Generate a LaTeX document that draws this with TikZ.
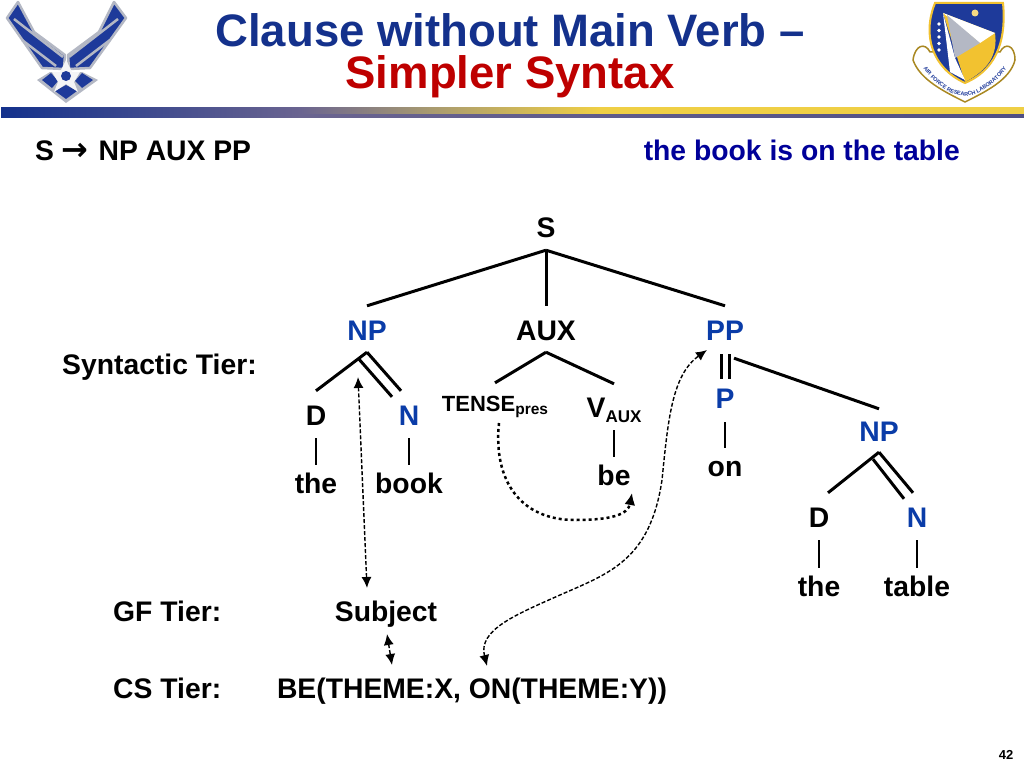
\documentclass[tikz,border=0pt]{standalone}
\usepackage{fontspec}
\setmainfont{Liberation Sans}
\newfontfamily\arrowfont{DejaVu Sans}
\usetikzlibrary{arrows.meta,decorations.text}

\definecolor{title_blue}{HTML}{14318C}
\definecolor{title_red}{HTML}{BE0000}
\definecolor{np_blue}{HTML}{0A3CA8}
\definecolor{line_blue}{HTML}{000099}
\definecolor{wing_blue}{HTML}{1E3A9A}
\definecolor{wing_grey}{HTML}{B4B8C4}
\definecolor{shield_gold}{HTML}{F2C230}
\definecolor{bar_mid}{HTML}{6A6490}
\definecolor{bar_tan}{HTML}{A89A70}
\definecolor{bar_gold}{HTML}{EFCF45}
\definecolor{bar_low}{HTML}{4F4F85}

\tikzset{
  label_text/.style={font=\fontsize{28.3}{28.3}\selectfont\bfseries, inner sep=0pt, anchor=base},
  title_text/.style={font=\fontsize{45.5}{45.5}\selectfont\bfseries, inner sep=0pt, anchor=base},
  inner_node/.style={label_text, text height=34pt, text depth=13pt},
  leaf_node/.style={label_text, text height=28pt, text depth=11pt},
  blue_node/.style={text=np_blue},
  branch/.style={line width=3pt},
  stem/.style={line width=2pt},
  wing/.style={fill=wing_blue, draw=wing_grey, line width=2.5pt, line join=round},
  link_arrow/.style={line width=1.4pt, dash pattern=on 4pt off 2pt, {Latex[length=11pt,width=10pt]}-{Latex[length=11pt,width=10pt]}},
}

\begin{document}
\begin{tikzpicture}[x=1pt, y=-1pt]
\useasboundingbox (0,0) rectangle (1024,768);

% header bar
\shade[left color=title_blue, right color=bar_mid] (1,107) rectangle (300,117);
\shade[left color=bar_mid, right color=bar_tan] (300,107) rectangle (430,117);
\shade[left color=bar_tan, right color=bar_gold] (430,107) rectangle (600,117);
\fill[bar_gold] (600,107) rectangle (1024,117);
\shade[left color=bar_mid, right color=bar_low] (300,114) rectangle (1024,117);

% wings
\fill[wing_grey] (66,103) -- (37,80) -- (50,72) -- (82,72) -- (98,80) -- cycle;
\draw[wing] (18,2) -- (34,32) -- (65,55) -- (64,69) -- (42,68) -- (7,18) -- cycle;
\draw[wing] (114,2) -- (99,32) -- (68,55) -- (69,69) -- (90,68) -- (126,18) -- cycle;
\draw[wing_grey, line width=2.5pt] (14,19) -- (63,57) (22,40) -- (56,66) (118,19) -- (69,57) (110,40) -- (76,66);
\fill[wing_blue] (42,80) -- (51,73) -- (58,81) -- (52,88) -- cycle;
\fill[wing_blue] (93,80) -- (82,73) -- (75,81) -- (82,88) -- cycle;
\fill[wing_blue] (66,99) -- (55,91) -- (66,85) -- (77,91) -- cycle;
\fill[white!85!wing_grey] (66,60) -- (72,72) -- (80,72) -- (74,82) -- (78,92) -- (66,84) -- (54,92) -- (58,82) -- (52,72) -- (60,72) -- cycle;
\fill[wing_blue] (66,76) circle (5pt);

% shield
\draw[fill=white, draw=shield_gold!70!black, line width=1.5pt] (913,60) .. controls (915,45) and (925,42) .. (930,52)
  -- (1000,52) .. controls (1005,42) and (1015,45) .. (1015,60) .. controls (1010,80) and (985,92) .. (965,102)
  .. controls (945,92) and (920,80) .. cycle;
\path[decorate, decoration={text along path, text align={center},
  text={|\fontsize{5.5}{5.5}\selectfont\bfseries\color{wing_blue}|AIR FORCE RESEARCH LABORATORY}}]
  (920,64) .. controls (932,82) and (950,96) .. (965,96) .. controls (980,96) and (998,82) .. (1010,64);
\draw[fill=wing_blue, draw=shield_gold, line width=2pt] (935,3) -- (1003,3) .. controls (1006,35) and (1000,68) .. (965,83)
  .. controls (932,68) and (922,35) .. cycle;
\fill[shield_gold] (943,13) -- (995,33) .. controls (998,55) and (988,70) .. (965,82) -- cycle;
\fill[white] (943,13) -- (995,33) -- (980,43) -- cycle;
\fill[wing_grey] (947,15) -- (980,43) -- (955,58) -- cycle;
\fill[white] (943,13) -- (955,58) -- (965,80) -- (950,72) -- cycle;
\foreach \sy in {24,30.5,37,43.5,50}
  \fill[white] (939,\sy) circle (1.8pt);
\fill[shield_gold!60!white] (975,13) circle (3.5pt);

% title
\node[title_text, text=title_blue] (title) at (510,46) {Clause without Main Verb --};
\node[title_text, text=title_red] (subtitle) at (510,88) {Simpler Syntax};

% rule and example
\node[label_text, anchor=base west] (rule) at (35,160) {S {\arrowfont\bfseries\fontsize{32}{32}\selectfont→}\kern2pt{} NP AUX PP};
\node[label_text, anchor=base east, text=line_blue] (sentence) at (960,160) {the book is on the table};

% tiers
\node[label_text, anchor=base west] (syntier) at (62,374) {Syntactic Tier:};
\node[label_text, anchor=base west] (gftier) at (113,621) {GF Tier:};
\node[label_text, anchor=base west] (cstier) at (113,698) {CS Tier:};

% tree
\node[inner_node] (S) at (546,237) {S};
\node[inner_node, blue_node] (NP) at (367,340) {NP};
\node[inner_node] (AUX) at (546,340) {AUX};
\node[inner_node, blue_node] (PP) at (725,340) {PP};

\node[inner_node] (D) at (316,425) {D};
\node[inner_node, blue_node] (N) at (409,425) {N};
\node[leaf_node] (the) at (316,493) {the};
\node[leaf_node] (book) at (409,493) {book};

\node[label_text, text height=27pt, anchor=base] (tense) at (495,411)
  {\fontsize{22}{22}\selectfont TENSE\raisebox{-3pt}{\fontsize{15.5}{15.5}\selectfont pres}};
\node[label_text, text height=33pt, text depth=13pt, anchor=base] (vaux) at (614,417)
  {V\raisebox{-5pt}{\fontsize{17}{17}\selectfont AUX}};
\node[leaf_node] (be) at (614,485) {be};

\node[label_text, text height=29pt, text depth=14pt, blue_node] (P) at (725,408) {P};
\node[leaf_node] (on) at (725,476) {on};

\node[label_text, text height=32pt, text depth=11pt, blue_node] (NPb) at (879,441) {NP};
\node[inner_node] (Db) at (819,527) {D};
\node[inner_node, blue_node] (Nb) at (917,527) {N};
\node[leaf_node] (theb) at (819,596) {the};
\node[leaf_node] (tableb) at (917,596) {table};

\node[label_text] (subject) at (386,621) {Subject};
\node[label_text] (cs) at (472,698) {BE(THEME:X, ON(THEME:Y))};

% branches
\draw[branch] (S.south) -- (NP.north);
\draw[branch] (S.south) -- (AUX.north);
\draw[branch] (S.south) -- (PP.north);
\draw[branch] ([yshift=1pt]NP.south) -- (D.north);
\draw[branch] ([yshift=1pt]NP.south) -- ([xshift=-8pt]N.north);
\draw[branch] ([xshift=-8pt,yshift=-6pt]NP.south) -- ([xshift=-17pt,yshift=-6pt]N.north);
\draw[branch] ([yshift=1pt]AUX.south) -- ([yshift=1pt]tense.north);
\draw[branch] ([yshift=1pt]AUX.south) -- (vaux.north);
\draw[branch] ([xshift=-4pt,yshift=-1pt]PP.south) -- ([xshift=-4pt]P.north);
\draw[branch] ([xshift=4pt,yshift=-1pt]PP.south) -- ([xshift=4pt]P.north);
\draw[branch] ([xshift=9pt,yshift=-5pt]PP.south) -- (NPb.north);
\draw[branch] (NPb.south) -- ([xshift=9pt]Db.north);
\draw[branch] (NPb.south) -- ([xshift=-4pt]Nb.north);
\draw[branch] ([xshift=-6pt,yshift=-7pt]NPb.south) -- ([xshift=-13pt,yshift=-6pt]Nb.north);

% stems
\draw[stem] (D.south) -- (the.north);
\draw[stem] (N.south) -- (book.north);
\draw[stem] (vaux.south) -- (be.north);
\draw[stem] (P.south) -- (on.north);
\draw[stem] (Db.south) -- (theb.north);
\draw[stem] (Nb.south) -- (tableb.north);

% arrows between tiers
\coordinate (npend) at (358,377);
\coordinate (subjtop) at (367,588);
\coordinate (subjlow) at (387,634);
\coordinate (cstop) at (392,665);
\coordinate (tenselow) at (499,423);
\coordinate (behook) at (632,493);
\coordinate (pptip) at (707,350);
\coordinate (cson) at (487,666);

\draw[link_arrow] (npend) -- (subjtop);
\draw[link_arrow] (subjlow) -- (cstop);
\draw[line width=2.5pt, dash pattern=on 3pt off 3pt, -{Latex[length=12pt,width=11pt]}] (tenselow)
  .. controls (493,480) and (520,520) .. (575,520)
  .. controls (610,520) and (628,515) .. (behook);
\draw[link_arrow] (cson) .. controls (478,630) and (515,615) .. (560,595)
  .. controls (610,573) and (650,560) .. (662,480)
  .. controls (668,420) and (672,375) .. (pptip);

% page number
\node[font=\fontsize{13}{13}\selectfont\bfseries, inner sep=0pt] (pagenum) at (1006,755) {42};

\end{tikzpicture}
\end{document}
